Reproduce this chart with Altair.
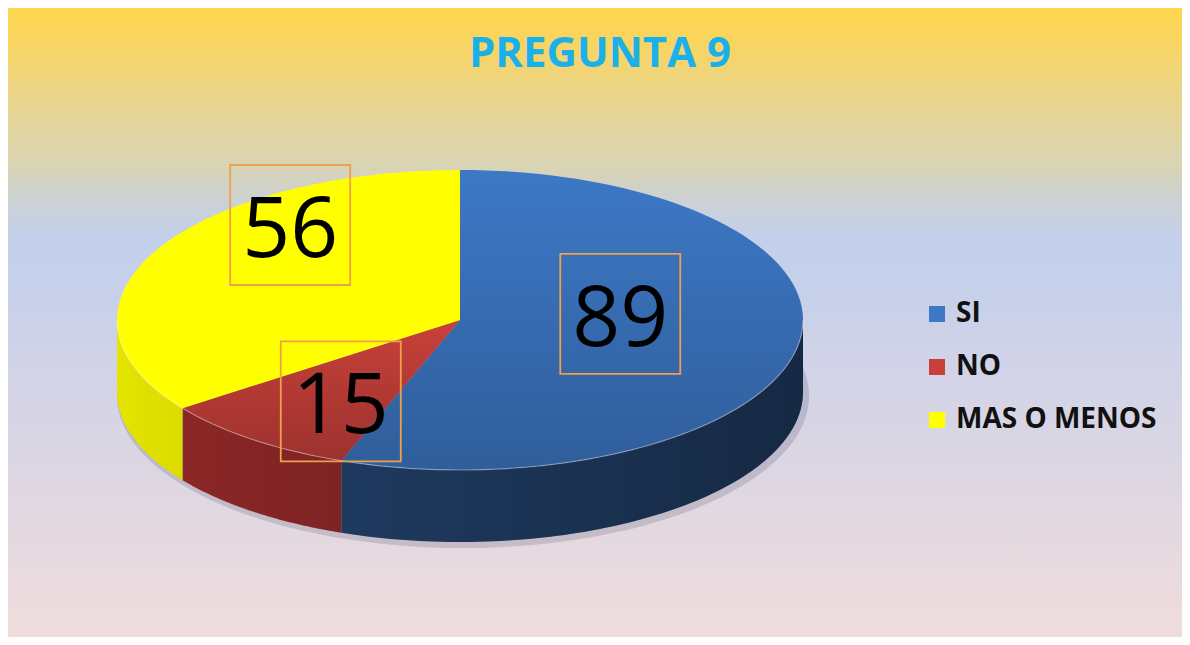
import altair as alt
import pandas as pd

# ---- data ----
title_text = "PREGUNTA 9"
categories = ["SI", "NO", "MAS O MENOS"]
values = [89, 15, 56]
top_colors = ["#3d78c6", "#c9403a", "#ffff00"]
side_colors = ["#23426d", "#902828", "#e4e400"]

# ---- layout constants (pixels in page coordinates) ----
W, H = 1174, 629
CX, CY, RA, RB, DEPTH, N = 460, 320, 343, 150, 72, 90
LX, LY, LA, LB = 447, 291, 176, 141
FONT = "Open Sans"

df = pd.DataFrame({"cat": categories, "value": values, "idx": list(range(len(categories)))})

xs = alt.Scale(domain=[8, 8 + W], nice=False, zero=False)
ys = alt.Scale(domain=[8, 8 + H], nice=False, zero=False, reverse=True)


def X(f):
    return alt.X(f, type="quantitative", scale=xs, axis=None)


def Y(f):
    return alt.Y(f, type="quantitative", scale=ys, axis=None)


base = (
    alt.Chart(df)
    .transform_window(cum="sum(value)", sort=[alt.SortField("idx")], frame=[None, 0])
    .transform_joinaggregate(total="sum(value)")
    .transform_calculate(
        a1="2*PI*datum.cum/datum.total",
        a0="2*PI*(datum.cum-datum.value)/datum.total",
    )
)

one = base.transform_filter("datum.idx == 0")

# background gradient
bg = one.mark_rect(
    fill=alt.Gradient(
        gradient="linear", x1=0, y1=0, x2=0, y2=1,
        stops=[
            alt.GradientStop(color="#fed64f", offset=0),
            alt.GradientStop(color="#f9d55f", offset=0.05),
            alt.GradientStop(color="#e8d48e", offset=0.15),
            alt.GradientStop(color="#d9d4b4", offset=0.25),
            alt.GradientStop(color="#cbd1d6", offset=0.31),
            alt.GradientStop(color="#c3d0ec", offset=0.37),
            alt.GradientStop(color="#c7d0ea", offset=0.46),
            alt.GradientStop(color="#d1d3e8", offset=0.56),
            alt.GradientStop(color="#dbd6e3", offset=0.72),
            alt.GradientStop(color="#f0dcdc", offset=1),
        ],
    )
).encode(x=alt.value(0), x2=alt.value(W), y=alt.value(0), y2=alt.value(H))

# soft shadow under the pie
shadow = (
    one.transform_calculate(steps=f"sequence(0, {2 * N + 1})")
    .transform_flatten(["steps"])
    .transform_calculate(t=f"2*PI*datum.steps/{2 * N}")
    .transform_calculate(
        px=f"{CX + 3} + {RA + 3}*sin(datum.t)",
        py=f"{CY + DEPTH + 4} - {RB + 2}*cos(datum.t)",
    )
    .mark_line(interpolate="linear-closed", strokeWidth=0, fill="rgba(40,40,70,0.16)")
    .encode(x=X("px"), y=Y("py"), order=alt.Order("steps:Q"))
)


# ---- side (front, visible part) as closed polygons: top rim then bottom rim back ----
def front(chart):
    return (
        chart.transform_filter("datum.s1 > datum.s0")
        .transform_calculate(steps=f"sequence(0, {2 * N + 2})")
        .transform_flatten(["steps"])
        .transform_calculate(j=f"datum.steps <= {N} ? datum.steps : {2 * N + 1} - datum.steps")
        .transform_calculate(t=f"datum.s0 + (datum.s1-datum.s0)*datum.j/{N}")
        .transform_calculate(
            px=f"{CX} + {RA}*sin(datum.t)",
            py=f"{CY} - {RB}*cos(datum.t) + (datum.steps > {N} ? {DEPTH} : 0)",
        )
    )


sidedata = front(
    base.transform_calculate(s0="max(datum.a0, PI/2)", s1="min(datum.a1, 3*PI/2)")
)
side = sidedata.mark_line(interpolate="linear-closed", strokeWidth=0).encode(
    x=X("px"), y=Y("py"), detail="cat:N", order=alt.Order("steps:Q"),
    fill=alt.Fill("cat:N", scale=alt.Scale(domain=categories, range=side_colors), legend=None),
)

overdata = front(one.transform_calculate(s0="PI/2", s1="3*PI/2"))
sideover = overdata.mark_line(
    interpolate="linear-closed",
    strokeWidth=0,
    fill=alt.Gradient(
        gradient="linear", x1=0, y1=0, x2=1, y2=0,
        stops=[
            alt.GradientStop(color="rgba(0,0,0,0)", offset=0),
            alt.GradientStop(color="rgba(0,0,0,0.38)", offset=1),
        ],
    ),
).encode(x=X("px"), y=Y("py"), order=alt.Order("steps:Q"))

rim = overdata.transform_filter(f"datum.steps <= {N}").mark_line(
    stroke="rgba(255,255,255,0.35)", strokeWidth=1.2
).encode(x=X("px"), y=Y("py"), order=alt.Order("steps:Q"))

# ---- top face ----
topdata = (
    base.transform_calculate(steps=f"sequence(-1, {N + 1})")
    .transform_flatten(["steps"])
    .transform_calculate(t=f"datum.a0 + (datum.a1-datum.a0)*max(datum.steps,0)/{N}")
    .transform_calculate(
        px=f"datum.steps < 0 ? {CX} : {CX} + {RA}*sin(datum.t)",
        py=f"datum.steps < 0 ? {CY} : {CY} - {RB}*cos(datum.t)",
    )
)

top = topdata.mark_line(interpolate="linear-closed", strokeWidth=0).encode(
    x=X("px"), y=Y("py"), order=alt.Order("steps:Q"), detail="cat:N",
    fill=alt.Fill(
        "cat:N",
        scale=alt.Scale(domain=categories, range=top_colors),
        sort=categories,
        legend=alt.Legend(
            title=None, orient="none", legendX=915, legendY=292,
            symbolType="square", symbolSize=256, symbolStrokeWidth=0,
            labelFont=FONT, labelFontSize=28, labelFontWeight="bold",
            labelColor="#111111", rowPadding=25, labelOffset=5, padding=0,
            labelLimit=500,
        ),
    ),
)

shade = topdata.transform_filter("datum.cat != 'MAS O MENOS'").mark_line(
    interpolate="linear-closed", strokeWidth=0,
    fill=alt.Gradient(
        gradient="linear", x1=0, y1=0, x2=0, y2=1,
        stops=[
            alt.GradientStop(color="rgba(0,0,0,0)", offset=0),
            alt.GradientStop(color="rgba(0,0,0,0.22)", offset=1),
        ],
    ),
).encode(x=X("px"), y=Y("py"), order=alt.Order("steps:Q"), detail="cat:N")

# ---- labels ----
lab = (
    base.transform_calculate(mid="(datum.a0+datum.a1)/2")
    .transform_calculate(
        lx=f"{LX} + {LA}*sin(datum.mid)",
        ly=f"{LY} - {LB}*cos(datum.mid)",
    )
    .transform_calculate(lyb="datum.ly + 30", lyc="datum.ly - 2")
)
boxes = lab.mark_point(
    shape="square", filled=False, size=14400, color="#f0a04b", strokeWidth=1.8, opacity=1
).encode(x=X("lx"), y=Y("lyc"))
texts = lab.mark_text(
    font=FONT, fontSize=84, color="#000000", baseline="alphabetic", align="center"
).encode(x=X("lx"), y=Y("lyb"), text="value:Q")

title = one.mark_text(
    text=title_text, font=FONT, fontSize=42, fontWeight="bold", color="#1ab0ea",
    baseline="alphabetic", align="center",
).encode(x=alt.value(600 - 8), y=alt.value(67 - 8))

chart = (
    alt.layer(bg, shadow, side, sideover, top, shade, rim, boxes, texts, title)
    .resolve_scale(fill="independent")
    .properties(width=W, height=H, padding=0, autosize="none", background="white")
    .configure_view(stroke=None)
)

chart.save("out.html", embed_options={"renderer": "svg", "actions": False})
